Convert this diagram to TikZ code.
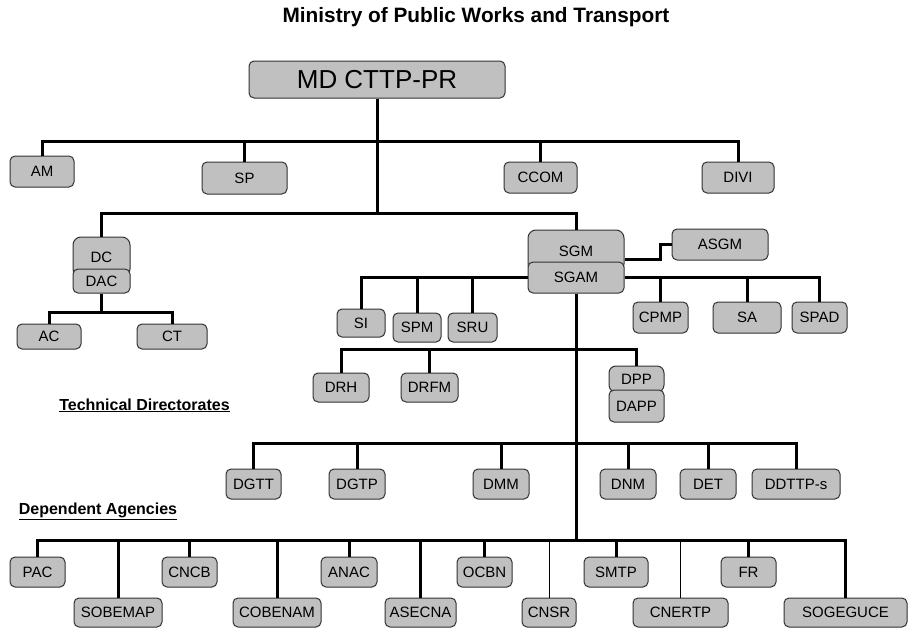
\documentclass[tikz,border=0pt]{standalone}
\usepackage{fontspec}
\setmainfont{Liberation Sans}
\definecolor{unitgray}{RGB}{192,192,192}
\definecolor{unitedge}{RGB}{50,50,50}

\begin{document}
\begin{tikzpicture}[x=1pt, y=-1pt]
    % Define styles
    \tikzset{
        unit/.style={
            draw=unitedge,
            fill=unitgray,
            line width=1pt,
            rounded corners=5pt,
            inner sep=0pt,
            minimum height=30pt,
            font=\fontsize{15}{18}\selectfont
        },
        link/.style={
            line width=3pt
        },
        thinlink/.style={
            line width=0.8pt
        },
        heading/.style={
            anchor=base,
            font=\fontsize{20.8}{24}\selectfont\bfseries
        },
        grouphead/.style={
            anchor=base,
            font=\fontsize{16}{19}\selectfont\bfseries
        }
    }
    \useasboundingbox (0,0) rectangle (908,629);

    % Title
    \node[heading] (title) at (476,23) {Ministry of Public Works and Transport};

    % Minister and cabinet
    \node[unit, minimum width=256pt, minimum height=37pt, font=\fontsize{26}{30}\selectfont] (md) at (377,79.5) {MD CTTP-PR};
    \node[unit, minimum width=64pt, minimum height=31pt] (am) at (42,171.5) {AM};
    \node[unit, minimum width=85pt, minimum height=32pt] (sp) at (244.5,178) {SP};
    \node[unit, minimum width=73pt, minimum height=31pt] (ccom) at (540.5,177.5) {CCOM};
    \node[unit, minimum width=72pt, minimum height=31pt] (divi) at (738,177.5) {DIVI};

    % Left branch
    \node[unit, rounded corners=8pt, minimum width=57pt, minimum height=40pt] (dc) at (101.5,257) {DC};
    \node[unit, minimum width=57pt, minimum height=24pt] (dac) at (101.5,281) {DAC};
    \node[unit, minimum width=64pt, minimum height=25pt] (ac) at (49,336.5) {AC};
    \node[unit, minimum width=70pt, minimum height=25pt] (ct) at (172,336.5) {CT};

    % General secretariat
    \node[unit, rounded corners=8pt, minimum width=96pt, minimum height=42pt] (sgm) at (576,251) {SGM};
    \node[unit, minimum width=96pt, minimum height=31pt] (sgam) at (576,277.5) {SGAM};
    \node[unit, minimum width=96pt, minimum height=31pt] (asgm) at (720,244.5) {ASGM};
    \node[unit, minimum width=48pt, minimum height=28pt] (si) at (361,323) {SI};
    \node[unit, minimum width=48pt, minimum height=29pt] (spm) at (417,327.5) {SPM};
    \node[unit, minimum width=49pt, minimum height=29pt] (sru) at (472.5,327.5) {SRU};
    \node[unit, minimum width=55pt, minimum height=31pt] (cpmp) at (660.5,317.5) {CPMP};
    \node[unit, minimum width=68pt, minimum height=31pt] (sa) at (747,317.5) {SA};
    \node[unit, minimum width=55pt, minimum height=31pt] (spad) at (819.5,317.5) {SPAD};
    \node[unit, minimum width=56pt, minimum height=29pt] (drh) at (341,387.5) {DRH};
    \node[unit, minimum width=57pt, minimum height=29pt] (drfm) at (429.5,387.5) {DRFM};
    \node[unit, rounded corners=7pt, minimum width=55pt, minimum height=26pt] (dpp) at (636.5,379) {DPP};
    \node[unit, minimum width=55pt, minimum height=32pt] (dapp) at (636.5,406) {DAPP};

    % Technical directorates
    \node[grouphead] (techhead) at (144.5,410) {\underline{Technical Directorates}};
    \node[unit, minimum width=55pt] (dgtt) at (253.5,484) {DGTT};
    \node[unit, minimum width=56pt] (dgtp) at (357,484) {DGTP};
    \node[unit, minimum width=56pt] (dmm) at (501,484) {DMM};
    \node[unit, minimum width=56pt] (dnm) at (628,484) {DNM};
    \node[unit, minimum width=56pt] (det) at (708,484) {DET};
    \node[unit, minimum width=88pt] (ddttp) at (796,484) {DDTTP-s};

    % Dependent agencies
    \node[grouphead] (agencyhead) at (98,514) {\underline{Dependent Agencies}};
    \node[unit, minimum width=55pt] (pac) at (37.5,572) {PAC};
    \node[unit, minimum width=55pt] (cncb) at (189.5,572) {CNCB};
    \node[unit, minimum width=56pt] (anac) at (349,572) {ANAC};
    \node[unit, minimum width=55pt] (ocbn) at (484.5,572) {OCBN};
    \node[unit, minimum width=64pt] (smtp) at (616,572) {SMTP};
    \node[unit, minimum width=55pt] (fr) at (748.5,572) {FR};
    \node[unit, minimum width=88pt, minimum height=29pt] (sobemap) at (118,612.5) {SOBEMAP};
    \node[unit, minimum width=88pt, minimum height=29pt] (cobenam) at (277,612.5) {COBENAM};
    \node[unit, minimum width=71pt, minimum height=29pt] (asecna) at (420.5,612.5) {ASECNA};
    \node[unit, minimum width=54pt, minimum height=29pt] (cnsr) at (549,612.5) {CNSR};
    \node[unit, minimum width=95pt, minimum height=29pt] (cnertp) at (680.5,612.5) {CNERTP};
    \node[unit, minimum width=123pt, minimum height=29pt] (sogeguce) at (845.5,612.5) {SOGEGUCE};

    % Junctions
    \coordinate (cabinet) at (377,141);
    \coordinate (split) at (377,213);
    \coordinate (dcjoin) at (101.5,312);
    \coordinate (dirjoin) at (576,349);
    \coordinate (techjoin) at (576,443);
    \coordinate (agencyjoin) at (576,540);

    % Connectors
    \draw[link] (md) -- (split);
    \foreach \n in {am,sp,ccom,divi}
        \draw[link] (cabinet) -| (\n);
    \draw[link] (split) -| (dc);
    \draw[link] (split) -| (sgm);
    \draw[link] (dac) -- (dcjoin);
    \draw[link] (dcjoin) -| (ac);
    \draw[link] (dcjoin) -| (ct);
    \draw[link] ([yshift=-8pt]sgm.east) -- ++(36,0) |- (asgm);
    \foreach \n in {si,spm,sru}
        \draw[link] (sgam.west) -| (\n);
    \foreach \n in {cpmp,sa,spad}
        \draw[link] (sgam.east) -| (\n);
    \draw[link] (sgam) -- (agencyjoin);
    \foreach \n in {drh,drfm,dpp}
        \draw[link] (dirjoin) -| (\n);
    \foreach \n in {dgtt,dgtp,dmm,dnm,det,ddttp}
        \draw[link] (techjoin) -| (\n);
    \foreach \n in {pac,sobemap,cncb,cobenam,anac,asecna,ocbn,smtp,fr,sogeguce}
        \draw[link] (agencyjoin) -| (\n);
    \draw[thinlink] (agencyjoin) -| (cnsr);
    \draw[thinlink] (agencyjoin) -| (cnertp);
\end{tikzpicture}
\end{document}
